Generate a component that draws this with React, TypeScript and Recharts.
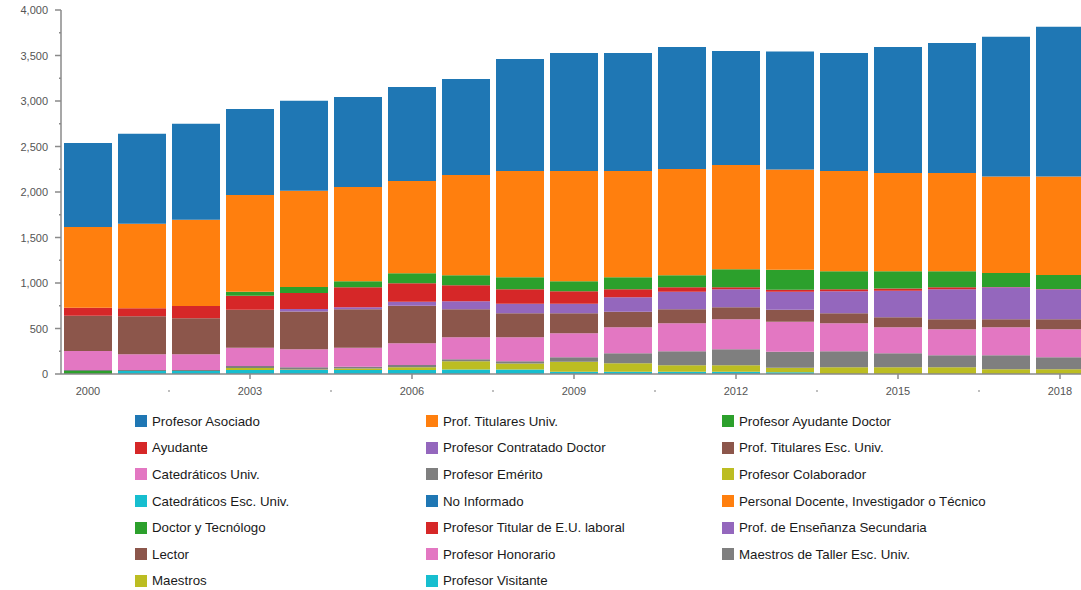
import React from 'react';
import { BarChart, Bar, XAxis, YAxis, Legend } from 'recharts';

const years = ['2000','2001','2002','2003','2004','2005','2006','2007','2008','2009','2010','2011','2012','2013','2014','2015','2016','2017','2018'];

const seriesNames = [
  'Profesor Asociado', 'Prof. Titulares Univ.', 'Profesor Ayudante Doctor',
  'Ayudante', 'Profesor Contratado Doctor', 'Prof. Titulares Esc. Univ.',
  'Catedráticos Univ.', 'Profesor Emérito', 'Profesor Colaborador',
  'Catedráticos Esc. Univ.', 'No Informado', 'Personal Docente, Investigador o Técnico',
  'Doctor y Tecnólogo', 'Profesor Titular de E.U. laboral', 'Prof. de Enseñanza Secundaria',
  'Lector', 'Profesor Honorario', 'Maestros de Taller Esc. Univ.',
  'Maestros', 'Profesor Visitante',
];

const seriesColors = [
  '#1f77b4', '#ff7f0e', '#2ca02c', '#d62728', '#9467bd', '#8c564b', '#e377c2', '#7f7f7f', '#bcbd22', '#17becf',
  '#1f77b4', '#ff7f0e', '#2ca02c', '#d62728', '#9467bd', '#8c564b', '#e377c2', '#7f7f7f', '#bcbd22', '#17becf',
];

const profesorAsociado = [923, 989, 1055, 945, 989, 989, 1033, 1055, 1231, 1296, 1296, 1340, 1252, 1296, 1296, 1384, 1428, 1538, 1648];
const profTitularesUniv = [886, 930, 948, 1063, 1058, 1036, 1014, 1103, 1169, 1212, 1169, 1169, 1147, 1103, 1103, 1081, 1081, 1059, 1081];
const profesorAyudanteDoctor = [0, 0, 0, 43, 66, 66, 111, 109, 131, 110, 131, 131, 197, 219, 197, 188, 175, 153, 153];
const ayudante = [88, 88, 136, 154, 176, 220, 201, 176, 158, 136, 88, 49, 22, 22, 22, 25, 22, 4, 4];
const profesorContratadoDoctor = [0, 0, 0, 0, 27, 22, 44, 88, 106, 106, 159, 193, 198, 198, 242, 292, 330, 352, 330];
const profTitularesEscUniv = [388, 418, 396, 418, 413, 422, 414, 308, 264, 220, 171, 154, 132, 132, 110, 110, 110, 88, 110];
const catedraticosUniv = [209, 171, 171, 201, 198, 209, 238, 242, 264, 264, 286, 308, 330, 330, 308, 286, 286, 308, 308];
const profesorEmerito = [11, 12, 12, 21, 25, 20, 24, 21, 24, 48, 110, 154, 176, 176, 176, 154, 132, 154, 132];
const profesorColaborador = [0, 0, 0, 22, 5, 15, 30, 90, 65, 110, 92, 70, 70, 48, 73, 73, 73, 51, 51];
const catedraticosEscUniv = [0, 33, 33, 45, 45, 45, 45, 50, 50, 25, 25, 25, 25, 20, 0, 0, 0, 0, 0];
const noInformado = [0, 0, 0, 0, 0, 0, 0, 0, 0, 0, 0, 0, 0, 0, 0, 0, 0, 0, 0];
const personalDocente = [0, 0, 0, 0, 0, 0, 0, 0, 0, 0, 0, 0, 0, 0, 0, 0, 0, 0, 0];
const doctorYTecnologo = [33, 0, 0, 0, 0, 0, 0, 0, 0, 0, 0, 0, 0, 0, 0, 0, 0, 0, 0];
const profesorTitularEULaboral = [0, 0, 0, 0, 0, 0, 0, 0, 0, 0, 0, 0, 0, 0, 0, 0, 0, 0, 0];
const profEnsenanzaSecundaria = [0, 0, 0, 0, 0, 0, 0, 0, 0, 0, 0, 0, 0, 0, 0, 0, 0, 0, 0];
const lector = [0, 0, 0, 0, 0, 0, 0, 0, 0, 0, 0, 0, 0, 0, 0, 0, 0, 0, 0];
const profesorHonorario = [0, 0, 0, 0, 0, 0, 0, 0, 0, 0, 0, 0, 0, 0, 0, 0, 0, 0, 0];
const maestrosDeTaller = [0, 0, 0, 0, 0, 0, 0, 0, 0, 0, 0, 0, 0, 0, 0, 0, 0, 0, 0];
const maestros = [0, 0, 0, 0, 0, 0, 0, 0, 0, 0, 0, 0, 0, 0, 0, 0, 0, 0, 0];
const profesorVisitante = [0, 0, 0, 0, 0, 0, 0, 0, 0, 0, 0, 0, 0, 0, 0, 0, 0, 0, 0];

const seriesValues = [
  profesorAsociado, profTitularesUniv, profesorAyudanteDoctor, ayudante, profesorContratadoDoctor,
  profTitularesEscUniv, catedraticosUniv, profesorEmerito, profesorColaborador, catedraticosEscUniv,
  noInformado, personalDocente, doctorYTecnologo, profesorTitularEULaboral, profEnsenanzaSecundaria,
  lector, profesorHonorario, maestrosDeTaller, maestros, profesorVisitante,
];

const yTicks = [0, 250, 500, 750, 1000, 1250, 1500, 1750, 2000, 2250, 2500, 2750, 3000, 3250, 3500, 3750, 4000];
const yLabelStep = 500;
const xLabelEvery = 3;

const data = years.map((year, i) => {
  const row: Record<string, any> = { year };
  seriesValues.forEach((vals, k) => { row['s' + k] = vals[i]; });
  return row;
});

const FONT = '"Liberation Sans", Arial, sans-serif';
const AXIS_COLOR = '#8a8a8a';
const TICK_TEXT = '#555';

const YTick = (props: any) => {
  const { x, y, payload } = props;
  const v = payload.value as number;
  const major = v % yLabelStep === 0;
  return (
    <g>
      <line x1={x - (major ? 6 : 2)} x2={x} y1={y} y2={y} stroke={AXIS_COLOR} strokeWidth={1.5} />
      {major && (
        <text x={x - 13} y={y} dy={4} textAnchor="end" fontSize={11} fontFamily={FONT} fill={TICK_TEXT}>
          {v.toLocaleString('en-US')}
        </text>
      )}
    </g>
  );
};

const XTick = (props: any) => {
  const { x, y, payload, index, width, visibleTicksCount } = props;
  const step = width && visibleTicksCount ? width / visibleTicksCount : 54;
  if (index % xLabelEvery === 0) {
    return (
      <g>
        {index > 0 && <line x1={x} x2={x} y1={y} y2={y + 5} stroke={AXIS_COLOR} strokeWidth={1.5} />}
        <text x={x} y={y} dy={21} textAnchor="middle" fontSize={11} fontFamily={FONT} fill={TICK_TEXT}>
          {payload.value}
        </text>
      </g>
    );
  }
  if (index % xLabelEvery === 1) {
    return <circle cx={x + step / 2} cy={y + 17} r={1} fill="#aaa" />;
  }
  return <g />;
};

const LegendGrid = () => (
  <div
    style={{
      height: 190,
      boxSizing: 'border-box',
      paddingTop: 8,
      paddingLeft: 127,
      display: 'grid',
      gridTemplateColumns: '291px 296px 320px',
      gridAutoRows: '26.6px',
      fontFamily: FONT,
      fontSize: 13.3,
      color: '#1a1a1a',
    }}
  >
    {seriesNames.map((name, k) => (
      <div key={name} style={{ display: 'flex', alignItems: 'center', whiteSpace: 'nowrap' }}>
        <span style={{ display: 'inline-block', width: 12, height: 12, background: seriesColors[k], marginRight: 5 }} />
        <span>{name}</span>
      </div>
    ))}
  </div>
);

export default function App() {
  const order = seriesNames.map((_, k) => k).reverse();
  return (
    <div style={{ position: 'fixed', top: 0, left: 8, width: 1073, height: 590, overflow: 'hidden', background: '#fff' }}>
      <BarChart
        width={1100}
        height={590}
        data={data}
        margin={{ top: 10, right: 21, left: 0, bottom: 0 }}
        barSize={48}
      >
        <XAxis
          dataKey="year"
          interval={0}
          tickSize={0}
          tickMargin={0}
          height={26}
          stroke={AXIS_COLOR}
          strokeWidth={1.5}
          tick={<XTick />}
        />
        <YAxis
          domain={[0, 4000]}
          ticks={yTicks}
          interval={0}
          width={53}
          tickSize={0}
          tickMargin={0}
          stroke={AXIS_COLOR}
          strokeWidth={1.5}
          tick={<YTick />}
        />
        <Legend verticalAlign="bottom" align="left" content={() => <LegendGrid />} wrapperStyle={{ left: 0, width: 1073 }} />
        {order.map((k) => (
          <Bar
            key={k}
            dataKey={'s' + k}
            name={seriesNames[k]}
            stackId="a"
            fill={seriesColors[k]}
            isAnimationActive={false}
          />
        ))}
      </BarChart>
    </div>
  );
}
